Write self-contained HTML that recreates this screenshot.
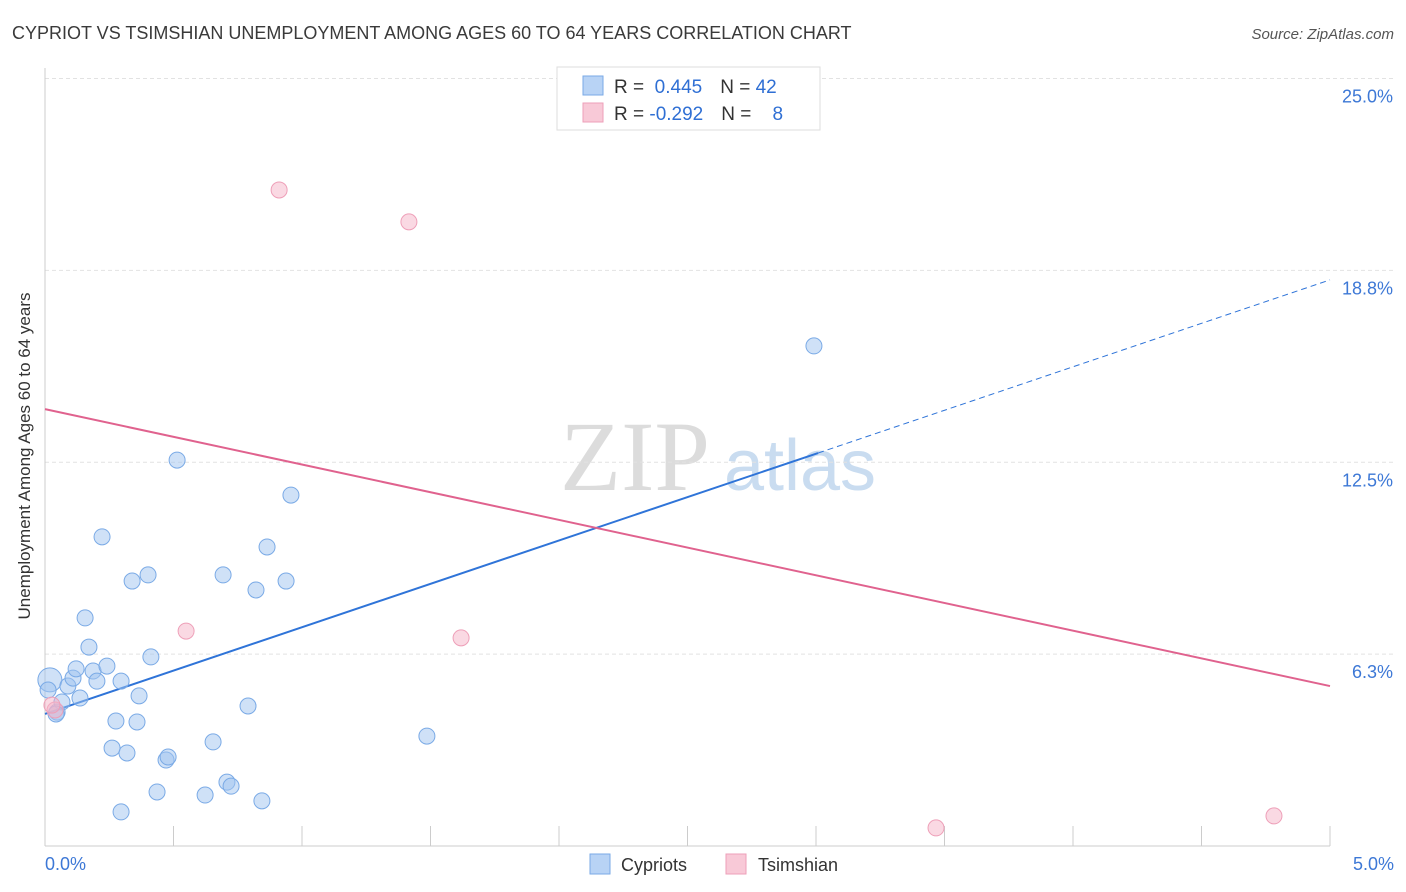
<!DOCTYPE html>
<html><head><meta charset="utf-8">
<style>
body{margin:0;background:#fff;font-family:"Liberation Sans",sans-serif;}
svg{display:block}
</style></head>
<body>
<svg id="chart" width="1406" height="892">
<text x="12" y="39" font-size="18" fill="#3a3a3a">CYPRIOT VS TSIMSHIAN UNEMPLOYMENT AMONG AGES 60 TO 64 YEARS CORRELATION CHART</text>
<text x="1394" y="39" font-size="15" fill="#555" font-style="italic" text-anchor="end">Source: ZipAtlas.com</text>
<text x="30" y="456" font-size="17" fill="#333" text-anchor="middle" transform="rotate(-90 30 456)">Unemployment Among Ages 60 to 64 years</text>
<g>
<text x="635" y="490" font-size="100" fill="#dcdcdc" font-family="Liberation Serif,serif" text-anchor="middle">ZIP</text>
<text x="800" y="490" font-size="72" fill="#c9dcf0" text-anchor="middle">atlas</text>
</g>
<g id="grid"></g>
<g id="axes"></g>
<g id="lines"></g>
<g id="points"></g>
<g>
<rect x="557" y="67" width="263" height="63" fill="#fff" stroke="#ddd"/>
<rect x="583" y="76" width="20" height="19" fill="#b8d3f5" stroke="#7aaae6"/>
<rect x="583" y="103" width="20" height="19" fill="#f8c9d7" stroke="#ee9fb8"/>
<text x="614" y="93" font-size="19" fill="#333">R = <tspan fill="#2f6fd4">&#160;0.445</tspan><tspan dx="18" fill="#333">N = </tspan><tspan fill="#2f6fd4">42</tspan></text>
<text x="614" y="120" font-size="19" fill="#333">R = <tspan fill="#2f6fd4">-0.292</tspan><tspan dx="18" fill="#333">N = </tspan><tspan fill="#2f6fd4">&#160;&#160;&#160;8</tspan></text>
</g>
<g>
<rect x="590" y="854" width="20" height="20" fill="#b8d3f5" stroke="#7aaae6"/>
<text x="621" y="871" font-size="18" fill="#333">Cypriots</text>
<rect x="726" y="854" width="20" height="20" fill="#f8c9d7" stroke="#ee9fb8"/>
<text x="758" y="871" font-size="18" fill="#333">Tsimshian</text>
</g>
</svg>
<script>
const yTicks=[6.25,12.5,18.75,25];
const yTickLabels=["6.3%","12.5%","18.8%","25.0%"];
const xTicks=[0,0.5,1,1.5,2,2.5,3,3.5,4,4.5,5];
const cypX=[0.019,0.012,0.047,0.066,0.089,0.109,0.121,0.136,0.156,0.171,0.187,0.202,0.222,0.241,0.261,0.276,0.296,0.296,0.319,0.339,0.358,0.366,0.401,0.412,0.436,0.471,0.479,0.514,0.623,0.654,0.693,0.708,0.724,0.790,0.821,0.844,0.864,0.938,0.957,1.486,2.992,0.043];
const cypY=[5.41,5.08,4.36,4.69,5.21,5.47,5.77,4.82,7.43,6.48,5.70,5.37,10.07,5.86,3.19,4.07,5.37,1.11,3.03,8.63,4.04,4.89,8.83,6.16,1.76,2.80,2.90,12.57,1.66,3.39,8.83,2.08,1.95,4.56,8.34,1.47,9.74,8.63,11.43,3.58,16.29,4.30];
const tsiX=[0.039,0.549,0.911,1.416,1.619,3.467,4.782,0.027];
const tsiY=[4.43,7.00,21.37,20.33,6.78,0.59,0.98,4.59];
const cypLine=[[0,4.30],[3.008,12.80]];
const cypDash=[[3.008,12.80],[5,18.44]];
const tsiLine=[[0,14.23],[5,5.21]];
const NS="http://www.w3.org/2000/svg";
const X=v=>45+v*257, Y=v=>846-v*30.7;
function mk(p,tag,a){const e=document.createElementNS(NS,tag);for(const k in a)e.setAttribute(k,a[k]);document.getElementById(p).appendChild(e);return e;}
yTicks.forEach((t,i)=>{
 let g=mk('grid','line',{x1:45,x2:1393,y1:Y(t),y2:Y(t),stroke:'#e2e2e2','stroke-dasharray':'4,3'});
 
 
 let l=mk('axes','text',{x:1393,y:Y(t)+24,'font-size':18,fill:'#3d78d6','text-anchor':'end'});
 l.textContent=yTickLabels[i];
 
 
});
let ax=mk('axes','line',{x1:45,x2:1330,y1:846,y2:846,stroke:'#ccc'});


let ay=mk('axes','line',{x1:45,x2:45,y1:68,y2:846,stroke:'#ccc'});


xTicks.forEach(t=>{let k=mk('axes','line',{x1:X(t),x2:X(t),y1:826,y2:846,stroke:'#ccc'});
 
 });
let x0=mk('axes','text',{x:45,y:870,'font-size':18,fill:'#3d78d6'});x0.textContent='0.0%';


let x1=mk('axes','text',{x:1394,y:870,'font-size':18,fill:'#3d78d6','text-anchor':'end'});x1.textContent='5.0%';


function ln(pts,col,dash,name){const e=mk('lines','line',{x1:X(pts[0][0]),y1:Y(pts[0][1]),x2:X(pts[1][0]),y2:Y(pts[1][1]),stroke:col,'stroke-width':dash?1:2,'stroke-dasharray':dash?'6,4':'none'});
 
 }
ln(cypLine,'#2f74d8',false,'cypriots-trendline');
ln(cypDash,'#2f74d8',true,'cypriots-trendline-extension');
ln(tsiLine,'#e0628e',false,'tsimshian-trendline');
cypX.forEach((v,i)=>{const c=mk('points','circle',{cx:X(v),cy:Y(cypY[i]),r:i==0?12:8,fill:'rgba(160,196,240,0.5)',stroke:'#7aaae6','stroke-width':1});
 
 });
tsiX.forEach((v,i)=>{const c=mk('points','circle',{cx:X(v),cy:Y(tsiY[i]),r:8,fill:'rgba(246,180,200,0.5)',stroke:'#ee9fb8','stroke-width':1});
 
 });
</script>
</body></html>
